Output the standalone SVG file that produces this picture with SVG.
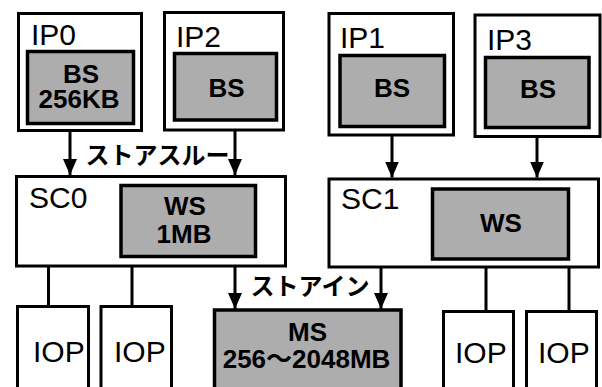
<svg xmlns="http://www.w3.org/2000/svg" width="602" height="387" viewBox="0 0 602 387">
  <defs>
    <style>
      .box { fill: #ffffff; stroke: #000000; stroke-width: 3; }
      .mem { fill: #adadad; stroke: #000000; stroke-width: 3.5; }
      .lbl { font-family: "Liberation Sans", Arial, sans-serif; font-size: 30px; fill: #000000; }
      .in  { font-family: "Liberation Sans", "Noto Sans CJK JP", sans-serif; font-size: 26px; font-weight: bold; fill: #000000; text-anchor: middle; }
      .jp  { font-family: "Noto Sans CJK JP", sans-serif; font-size: 24px; font-weight: bold; fill: #000000; text-anchor: middle; }
      .wire { stroke: #000000; stroke-width: 3; fill: none; }
    </style>
    <marker id="head" markerUnits="userSpaceOnUse" markerWidth="16" markerHeight="14" viewBox="0 0 16 14" refX="16" refY="7" orient="auto">
      <path d="M0,0 L16,7 L0,14 Z" fill="#000000"/>
    </marker>
  </defs>

  <!-- processors with buffer storage -->
  <g id="ip0">
    <rect class="box" x="18.5" y="13.5" width="123" height="117"/>
    <rect class="mem" x="27.5" y="51.5" width="106" height="72"/>
    <text class="lbl" x="31" y="45">IP0</text>
    <text class="in" x="81" y="83">BS</text>
    <text class="in" x="79" y="108">256KB</text>
  </g>
  <g id="ip2">
    <rect class="box" x="164.5" y="12.5" width="119" height="117.5"/>
    <rect class="mem" x="174.5" y="53.5" width="102" height="66.5"/>
    <text class="lbl" x="176" y="47">IP2</text>
    <text class="in" x="226.5" y="97">BS</text>
  </g>
  <g id="ip1">
    <rect class="box" x="329" y="13.5" width="124.5" height="121.5"/>
    <rect class="mem" x="340" y="55.5" width="104.5" height="71"/>
    <text class="lbl" x="340" y="48">IP1</text>
    <text class="in" x="392" y="97">BS</text>
  </g>
  <g id="ip3">
    <rect class="box" x="475" y="15" width="125" height="121.5"/>
    <rect class="mem" x="485.5" y="57.5" width="103.5" height="70"/>
    <text class="lbl" x="487" y="50">IP3</text>
    <text class="in" x="538" y="98">BS</text>
  </g>

  <!-- storage controllers with work storage -->
  <g id="sc0">
    <rect class="box" x="16.5" y="176.5" width="269" height="89.5"/>
    <rect class="mem" x="121" y="185.5" width="134.5" height="71"/>
    <text class="lbl" x="29" y="208">SC0</text>
    <text class="in" x="185" y="215">WS</text>
    <text class="in" x="184" y="243">1MB</text>
  </g>
  <g id="sc1">
    <rect class="box" x="329" y="179" width="269.5" height="88"/>
    <rect class="mem" x="432.5" y="189" width="136" height="70"/>
    <text class="lbl" x="341" y="209">SC1</text>
    <text class="in" x="501" y="232">WS</text>
  </g>

  <!-- main storage -->
  <g id="ms">
    <rect class="mem" x="214.5" y="310" width="186.5" height="90"/>
    <text class="in" x="307.5" y="341">MS</text>
    <text class="in" x="306.5" y="368">256〜2048MB</text>
  </g>

  <!-- I/O processors -->
  <g id="iop0">
    <rect class="box" x="17.5" y="306.5" width="71" height="95"/>
    <text class="lbl" x="33" y="362">IOP</text>
  </g>
  <g id="iop1">
    <rect class="box" x="101" y="306.5" width="70.5" height="95"/>
    <text class="lbl" x="114" y="362">IOP</text>
  </g>
  <g id="iop2">
    <rect class="box" x="443.5" y="311.5" width="70" height="90"/>
    <text class="lbl" x="455" y="363">IOP</text>
  </g>
  <g id="iop3">
    <rect class="box" x="526.5" y="311.5" width="70" height="90"/>
    <text class="lbl" x="538" y="363">IOP</text>
  </g>

  <!-- connectors -->
  <g id="connectors">
    <line class="wire" x1="70" y1="130" x2="70" y2="175" marker-end="url(#head)"/>
    <line class="wire" x1="235" y1="130" x2="235" y2="175" marker-end="url(#head)"/>
    <line class="wire" x1="392" y1="135" x2="392" y2="177.5" marker-end="url(#head)"/>
    <line class="wire" x1="537" y1="136.5" x2="537" y2="177.5" marker-end="url(#head)"/>
    <line class="wire" x1="235" y1="266" x2="235" y2="309" marker-end="url(#head)"/>
    <line class="wire" x1="381" y1="267" x2="381" y2="309" marker-end="url(#head)"/>
    <line class="wire" x1="48.5" y1="266" x2="48.5" y2="306.5"/>
    <line class="wire" x1="132" y1="266" x2="132" y2="306.5"/>
    <line class="wire" x1="486" y1="267" x2="486" y2="311.5"/>
    <line class="wire" x1="569" y1="267" x2="569" y2="311.5"/>
    <text class="jp" x="157.5" y="164">ストアスルー</text>
    <text class="jp" x="310" y="295">ストアイン</text>
  </g>
</svg>
